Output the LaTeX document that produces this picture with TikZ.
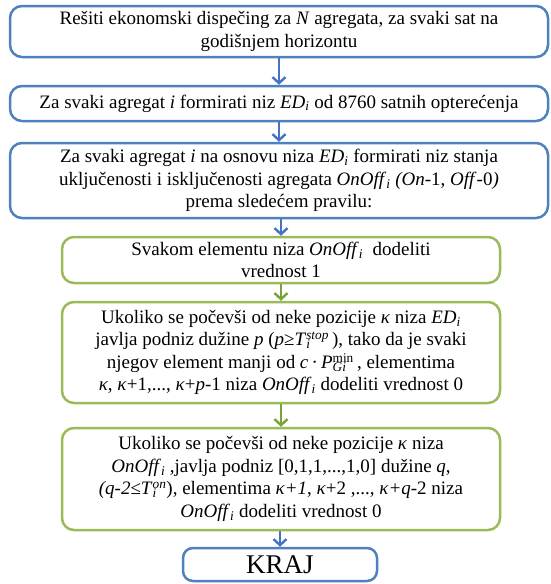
\documentclass[tikz,border=0pt]{standalone}
\usepackage{fontspec}
\setmainfont{Liberation Serif}[Ligatures=TeX]
\usetikzlibrary{arrows.meta}
\definecolor{bblue}{HTML}{4F81BD}
\definecolor{ablue}{HTML}{4472C4}
\definecolor{bgreen}{HTML}{9BBB59}
\definecolor{agreen}{HTML}{76A33A}
\newcommand{\subsup}[3]{\textit{#1}\rlap{\textsubscript{\textit{#2}}}\textsuperscript{#3}}
\tikzset{
  box/.style={draw, rounded corners=12pt, line width=2.5pt, inner sep=0pt, align=center,
    font=\fontsize{19}{22.5}\selectfont, text=black},
  bluebox/.style={box, draw=bblue},
  greenbox/.style={box, draw=bgreen},
  flowarrow/.style={line width=2.4pt, -{Straight Barb[length=6pt,width=13pt,line width=2.4pt]}},
  bluearrow/.style={flowarrow, draw=ablue},
  greenarrow/.style={flowarrow, draw=agreen}
}
\begin{document}
\begin{tikzpicture}[x=1pt,y=1pt]
\useasboundingbox (0,0) rectangle (550,-584);
\node[bluebox, minimum width=538pt, minimum height=51pt] (b1) at (279,-31.5)
  {Rešiti ekonomski dispečing za \textit{N} agregata, za svaki sat na\\godišnjem horizontu};
\node[bluebox, minimum width=538pt, minimum height=35pt] (b2) at (279,-103.5)
  {Za svaki agregat \textit{i} formirati niz \textit{ED}\textsubscript{\textit{i}} od 8760 satnih opterećenja};
\node[bluebox, minimum width=538pt, minimum height=75pt] (b3) at (279,-180.5)
  {Za svaki agregat \textit{i} na osnovu niza \textit{ED}\textsubscript{\textit{i}} formirati niz stanja\\
   uključenosti i isključenosti agregata \textit{OnOff}\textsubscript{\textit{i}} \textit{(On}-1, \textit{Off}-0\textit{)}\\
   prema sledećem pravilu:};
\node[greenbox, minimum width=438pt, minimum height=46pt] (b4) at (281,-260)
  {Svakom elementu niza \textit{OnOff}\textsubscript{\textit{i}}\ \ dodeliti\\vrednost 1};
\node[greenbox, minimum width=438pt, minimum height=101pt] (b5) at (281,-352.5)
  {Ukoliko se počevši od neke pozicije \textit{κ} niza \textit{ED}\textsubscript{\textit{i}}\\
   javlja podniz dužine \textit{p} (\textit{p}≥\subsup{T}{i}{\textit{stop}}\,), tako da je svaki\\
   njegov element manji od \textit{c}\,·\,\subsup{P}{Gi}{min}\,, elementima\\
   \textit{κ}, \textit{κ}+1,..., \textit{κ}+\textit{p}-1 niza \textit{OnOff}\textsubscript{\textit{i}} dodeliti vrednost 0};
\node[greenbox, minimum width=438pt, minimum height=102pt] (b6) at (281,-479)
  {Ukoliko se počevši od neke pozicije \textit{κ} niza\\
   \textit{OnOff}\textsubscript{\textit{i}} ,javlja podniz [0,1,1,...,1,0] dužine \textit{q},\\
   \textit{(q-2}≤\subsup{T}{i}{\textit{on}}), elementima \textit{κ+1}, \textit{κ}+2 ,..., \textit{κ+q}-2 niza\\
   \textit{OnOff}\textsubscript{\textit{i}} dodeliti vrednost 0};
\node[bluebox, rounded corners=10pt, minimum width=194pt, minimum height=33pt,
  font=\fontsize{27}{30}\selectfont] (b7) at (280,-564.5) {KRAJ};
\draw[bluearrow] (b1.south) -- (b2.north);
\draw[bluearrow] (b2.south) -- (b3.north);
\draw[bluearrow] (b3.south -| b4.north) -- (b4.north);
\draw[greenarrow] (b4.south) -- (b5.north);
\draw[greenarrow] (b5.south) -- (b6.north);
\draw[bluearrow] (b6.south -| b7.north) -- (b7.north);
\end{tikzpicture}
\end{document}
